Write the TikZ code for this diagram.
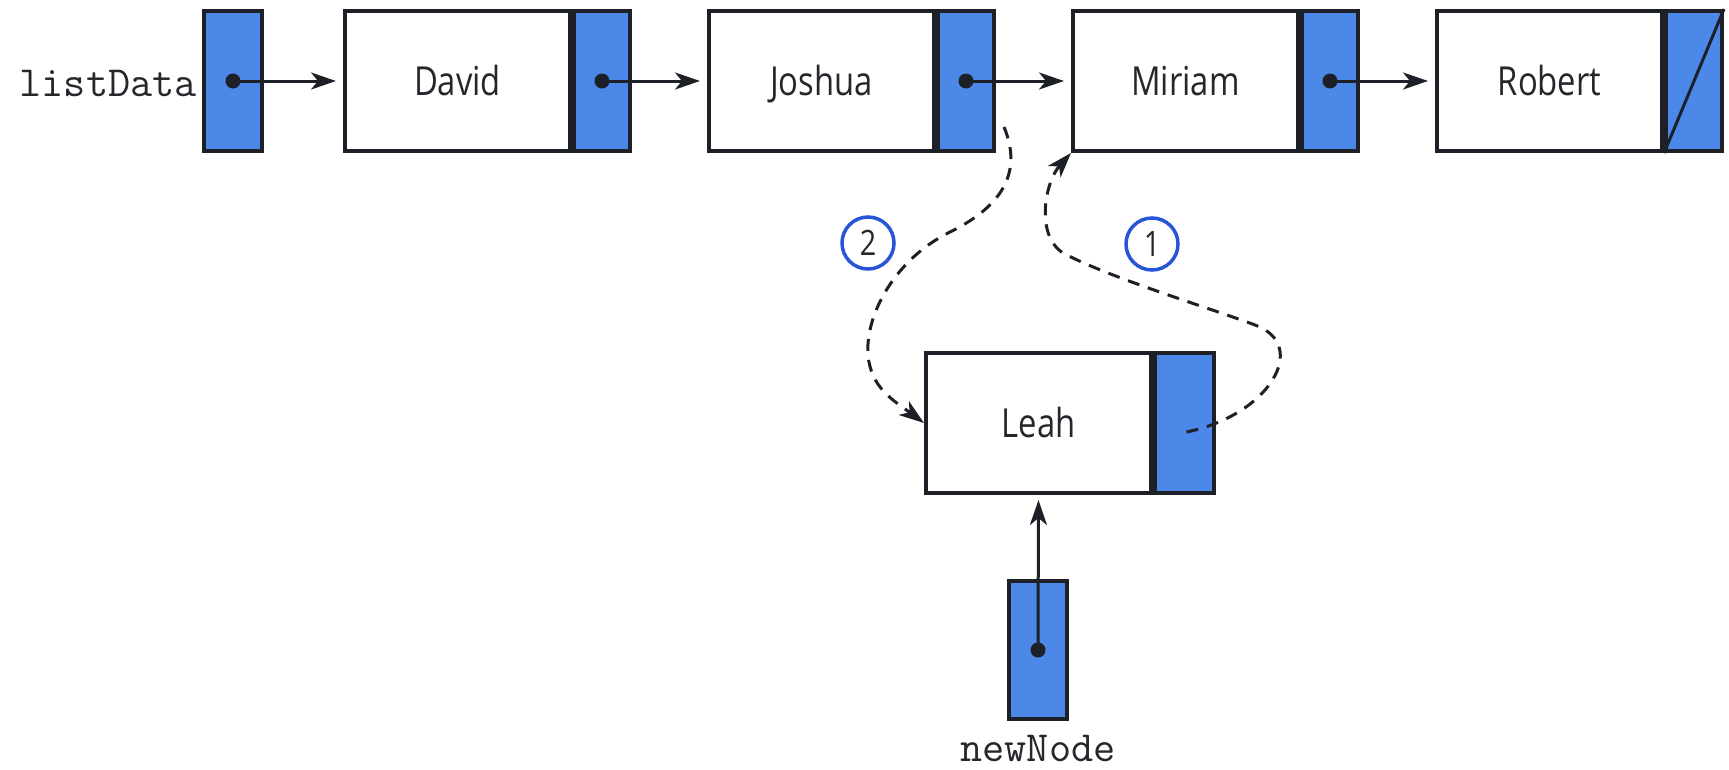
\documentclass[tikz,border=0pt]{standalone}
\usepackage{fontspec}
\usepackage{graphicx}
\newfontfamily\lblfont{Open Sans}
\usetikzlibrary{arrows.meta,calc}
\definecolor{ptrblue}{RGB}{76,136,232}
\definecolor{edgec}{RGB}{30,32,40}
\definecolor{ringblue}{RGB}{40,85,215}
\definecolor{txtc}{RGB}{38,38,44}
\newcommand\nm[1]{\scalebox{0.82}[1]{#1}}
\begin{document}
\begin{tikzpicture}[x=1pt,y=-1pt,
  datacell/.style={draw=edgec,line width=4pt,fill=white,minimum width=225pt,minimum height=140pt,inner sep=0pt,text=txtc,text height=28pt,text depth=0pt,font=\lblfont\fontsize{40}{44}\selectfont},
  ptrcell/.style={draw=edgec,line width=4pt,fill=ptrblue,minimum width=56pt,minimum height=140pt,inner sep=0pt},
  dotc/.style={circle,fill=edgec,minimum size=15pt,inner sep=0pt},
  tipc/.style={-{Stealth[length=25pt,width=17pt,inset=7pt]}},
  link/.style={line width=3pt,draw=edgec,shorten >=7pt,tipc},
  dlink/.style={line width=3pt,draw=edgec,dash pattern=on 12pt off 9pt,tipc},
  ring/.style={circle,draw=ringblue,line width=3.5pt,minimum size=52pt,inner sep=0pt,text=txtc,text height=25pt,text depth=0pt,font=\lblfont\fontsize{35}{40}\selectfont},
  code/.style={font=\ttfamily\fontsize{43}{48}\selectfont,inner sep=0pt,text=txtc}]
\useasboundingbox (0,0) rectangle (1729,769);
% head pointer
\node[ptrcell,minimum width=58pt] (head) at (233,81) {};
\node[dotc] (headdot) at (head.center) {};
\node[code,anchor=east] (headlbl) at (197,83) {listData};
% list nodes
\node[datacell] (david) at (457.5,81) {\nm{David}};
\node[ptrcell,anchor=west] (davidp) at (david.east) {};
\node[dotc] (daviddot) at (davidp.center) {};
\node[datacell] (joshua) at (821.5,81) {\nm{Joshua}};
\node[ptrcell,anchor=west] (joshuap) at (joshua.east) {};
\node[dotc] (joshuadot) at (joshuap.center) {};
\node[datacell] (miriam) at (1185.5,81) {\nm{Miriam}};
\node[ptrcell,anchor=west] (miriamp) at (miriam.east) {};
\node[dotc] (miriamdot) at (miriamp.center) {};
\node[datacell] (robert) at (1549.5,81) {\nm{Robert}};
\node[ptrcell,anchor=west] (robertp) at (robert.east) {};
\draw[edgec,line width=3pt] (robertp.south west) -- (robertp.north east);
% new node
\node[datacell] (leah) at (1038.5,423) {\nm{Leah}};
\node[ptrcell,anchor=west,minimum width=59pt] (leahp) at (leah.east) {};
\node[ptrcell,minimum width=58pt,minimum height=138pt] (newp) at (1038,650) {};
\node[dotc] (newdot) at (newp.center) {};
\node[code] (newlbl) at (1038,748) {newNode};
% links
\draw[link] (headdot.center) -- (david.west);
\draw[link] (daviddot.center) -- (joshua.west);
\draw[link] (joshuadot.center) -- (miriam.west);
\draw[link] (miriamdot.center) -- (robert.west);
\draw[link,shorten >=5pt] (newdot.center) -- (leah.south);
% step labels
\node[ring] (stepb) at (868,243) {\nm{2}};
\node[ring] (stepa) at (1152,244) {\nm{1}};
% dashed links
\coordinate (twostart) at ($(joshuap.south east)+(8,-26)$);
\draw[dlink] (twostart) .. controls (1022,170) and (1005,205) .. (950,232)
  .. controls (895,259) and (865,315) .. (868,355)
  .. controls (871,388) and (893,400) .. (leah.west);
\coordinate (onestart) at ($(leahp.center)+(2,9)$);
\draw[dlink] (onestart) .. controls (1270,415) and (1310,345) .. (1255,325)
  .. controls (1210,308) and (1110,278) .. (1063,253)
  .. controls (1035,235) and (1045,182) .. (miriam.south west);
\end{tikzpicture}
\end{document}
